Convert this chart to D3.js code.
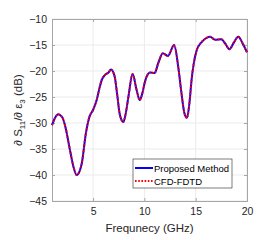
<!DOCTYPE html>
<html>
<head>
<meta charset="utf-8">
<script src="https://cdn.jsdelivr.net/npm/d3@7"></script>
<style>
  body { margin: 0; background: #fff; }
  svg { font-family: "Liberation Sans", Arial, sans-serif; }
</style>
</head>
<body>
<div id="graph"></div>
<script>
// frequency (GHz) and sensitivity (dB)
var freq = [1, 1.3, 1.6, 2.0, 2.3, 2.75, 3.1, 3.4, 3.7, 3.9, 4.3, 4.65, 5.0, 5.35, 5.6, 5.85, 6.15, 6.5, 6.75, 7.1,
  7.35, 7.6, 7.95, 8.2, 8.45, 8.85, 9.25, 9.55, 9.8, 10.05, 10.55, 11.0, 11.35, 11.8, 12.3, 12.9, 13.3, 13.6, 13.9,
  14.15, 14.4, 14.6, 15.1, 15.6, 16.0, 16.4, 16.9, 17.5, 17.9, 18.3, 18.7, 19.15, 19.6, 20];
var proposed = [-30.4, -29.0, -28.3, -28.9, -30.7, -35.2, -38.5, -40, -39.2, -37.8, -32, -28.8, -27.5, -25.6, -23.5,
  -21.7, -20.8, -20.3, -19.7, -21.0, -24.5, -28.3, -29.8, -28.0, -24.9, -20.6, -23.7, -25.6, -24.3, -22.1, -20.3,
  -20.4, -18.5, -16.6, -17.1, -15.0, -19.2, -24.0, -28.1, -29.0, -26.0, -21.7, -16.0, -14.4, -13.7, -13.4, -14.0,
  -13.9, -14.8, -15.8, -14.6, -13.4, -14.8, -16.4];
var cfdfdtd = proposed.slice(); // the two curves overlap
var xTicks = [5, 10, 15, 20];
var yTicks = [-10, -15, -20, -25, -30, -35, -40, -45];
var legendNames = ['Proposed Method', 'CFD-FDTD'];

var width = 273, height = 240;
var margin = { top: 19, right: 26, bottom: 39, left: 52 };
var w = width - margin.left - margin.right;
var h = height - margin.top - margin.bottom;

var svg = d3.select('#graph').append('svg')
  .attr('width', width)
  .attr('height', height);

var g = svg.append('g')
  .attr('transform', 'translate(' + margin.left + ',' + margin.top + ')');

var x = d3.scaleLinear().domain([1, 20]).range([0, w]);
var y = d3.scaleLinear().domain([-45, -10]).range([h, 0]);

// grid
g.append('g').selectAll('line').data(xTicks).enter().append('line')
  .attr('x1', d => x(d)).attr('x2', d => x(d))
  .attr('y1', 0).attr('y2', h)
  .attr('stroke', '#ebebeb').attr('stroke-width', 1);
g.append('g').selectAll('line').data(yTicks).enter().append('line')
  .attr('x1', 0).attr('x2', w)
  .attr('y1', d => y(d)).attr('y2', d => y(d))
  .attr('stroke', '#ebebeb').attr('stroke-width', 1);

// axes
var xAxis = g.append('g')
  .attr('transform', 'translate(0,' + h + ')')
  .call(d3.axisBottom(x).tickValues(xTicks).tickSize(-3).tickPadding(7));
var yAxis = g.append('g')
  .call(d3.axisLeft(y).tickValues(yTicks).tickSize(-3).tickPadding(5));
var xTop = g.append('g')
  .call(d3.axisTop(x).tickValues(xTicks).tickSize(-3).tickFormat(''));
var yRight = g.append('g')
  .attr('transform', 'translate(' + w + ',0)')
  .call(d3.axisRight(y).tickValues(yTicks).tickSize(-3).tickFormat(''));

[xAxis, yAxis, xTop, yRight].forEach(function(a) {
  a.select('.domain').attr('stroke', '#a6a6a6');
  a.selectAll('.tick line').attr('stroke', '#a6a6a6');
  a.selectAll('.tick text')
    .attr('fill', '#262626')
    .style('font-size', '10.5px')
    .style('font-family', '"Liberation Sans", Arial, sans-serif');
});

// curves
var line = d3.line()
  .x(function(d, i) { return x(freq[i]); })
  .y(function(d) { return y(d); })
  .curve(d3.curveMonotoneX);

g.append('path')
  .datum(proposed)
  .attr('d', line)
  .attr('fill', 'none')
  .attr('stroke', '#0000ff')
  .attr('stroke-width', 2);

g.append('path')
  .datum(cfdfdtd)
  .attr('d', line)
  .attr('fill', 'none')
  .attr('stroke', '#ff0000')
  .attr('stroke-width', 2)
  .attr('stroke-dasharray', '1.6,1.6');

// labels
svg.append('text')
  .attr('x', margin.left + w / 2)
  .attr('y', 232)
  .attr('text-anchor', 'middle')
  .attr('fill', '#262626')
  .style('font-size', '11.5px')
  .text('Frequnecy (GHz)');

var ylab = svg.append('text')
  .attr('transform', 'translate(22,' + (margin.top + h / 2) + ') rotate(-90)')
  .attr('text-anchor', 'middle')
  .attr('fill', '#262626')
  .style('font-size', '11.5px');
ylab.append('tspan').text('\u2202 S');
ylab.append('tspan').attr('dy', 3).style('font-size', '8px').text('11');
ylab.append('tspan').attr('dy', -3).text('/\u2202 \u03b5');
ylab.append('tspan').attr('dy', 3).style('font-size', '8px').text('3');
ylab.append('tspan').attr('dy', -3).text('  (dB)');

// legend
var lg = svg.append('g').attr('transform', 'translate(133,159)');
lg.append('rect')
  .attr('width', 99).attr('height', 29)
  .attr('fill', '#fff')
  .attr('stroke', '#262626').attr('stroke-width', 0.6);
var items = lg.selectAll('g.item').data(legendNames).enter().append('g')
  .attr('class', 'item')
  .attr('transform', function(d, i) { return 'translate(0,' + (9 + i * 13) + ')'; });
items.append('line')
  .attr('x1', 2).attr('x2', 20)
  .attr('stroke', function(d, i) { return i === 0 ? '#0000ff' : '#ff0000'; })
  .attr('stroke-width', 2)
  .attr('stroke-dasharray', function(d, i) { return i === 0 ? null : '1.6,1.6'; });
items.append('text')
  .attr('x', 21).attr('y', 3.5)
  .attr('fill', '#000')
  .style('font-size', '9.5px')
  .text(function(d) { return d; });
</script>
</body>
</html>
